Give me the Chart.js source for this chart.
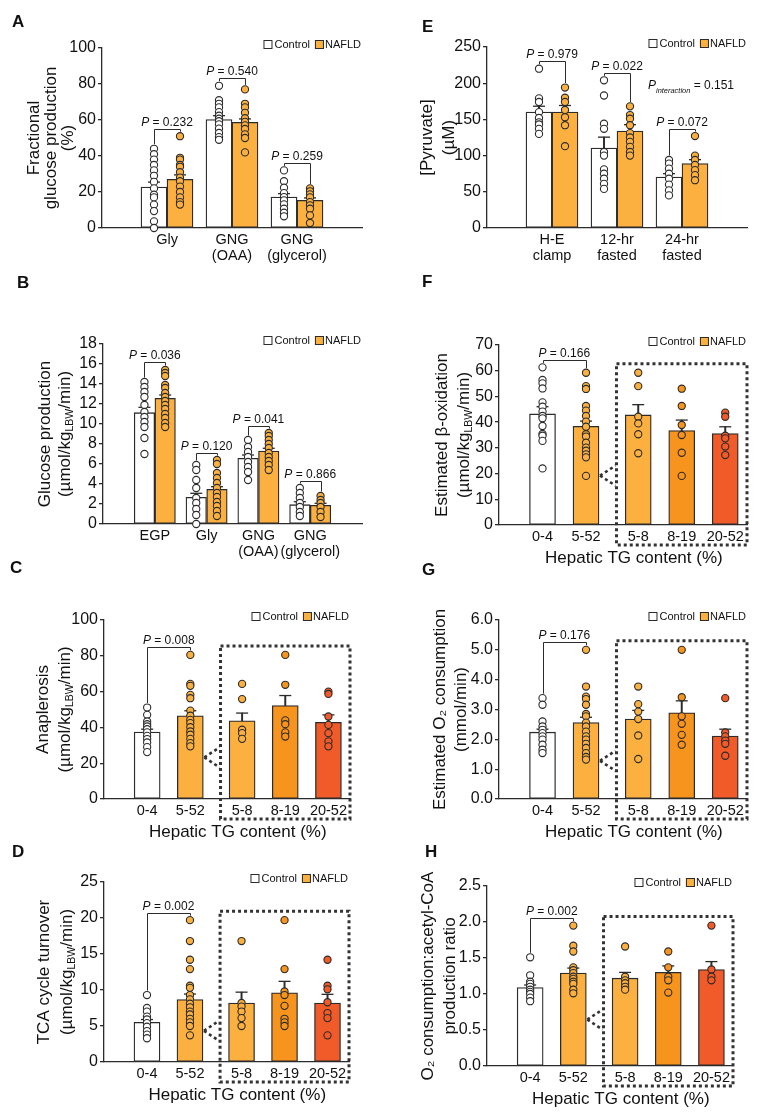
<!DOCTYPE html>
<html>
<head>
<meta charset="utf-8">
<title>Hepatic glucose and mitochondrial metabolism in NAFLD</title>
<script src="https://cdn.jsdelivr.net/npm/chart.js@4.4.1/dist/chart.umd.min.js"></script>
<style>
  html, body { margin: 0; padding: 0; background: #fff; }
  #fig { position: relative; width: 769px; height: 1114px; overflow: hidden; background: #fff; }
  #fig canvas { position: absolute; }
</style>
</head>
<body>
<div id="fig"></div>
<script>
// ---------- values ----------

// A: fractional glucose production (%)
const aCategories = [['Gly'], ['GNG', '(OAA)'], ['GNG', '(glycerol)']];
const aCtrlMean = [22.8, 60.2, 17.2];
const aCtrlSem = [2.7, 2.2, 1.9];
const aNafldMean = [27.0, 58.7, 15.4];
const aNafldSem = [2.5, 1.9, 1.3];
const aCtrlPts = [
  [44, 41, 38, 35, 32, 29, 25.6, 22, 18.5, 17, 13, 9.4, 3.7, 0],
  [79, 71, 69, 67, 64.4, 62.4, 60.7, 59.3, 57.6, 55.2, 52.8, 50.5, 49],
  [32, 26, 22.4, 19.4, 17.2, 15.4, 13.1, 10.7, 8.5, 6.5]
];
const aNafldPts = [
  [51, 39, 38, 35, 34, 31, 28, 26, 23, 20, 17, 14.4, 13],
  [77, 69, 67, 64, 61, 59, 57, 55, 52, 50, 42],
  [22, 20.4, 18.7, 17, 14.4, 12.6, 10.7, 7, 2.8]
];
const aPValues = ['0.232', '0.540', '0.259'];

// B: glucose production (umol/kgLBW/min)
const bCategories = [['EGP'], ['Gly'], ['GNG', '(OAA)'], ['GNG', '(glycerol)']];
const bCtrlMean = [11.13, 2.67, 6.57, 1.93];
const bCtrlSem = [0.54, 0.4, 0.33, 0.3];
const bNafldMean = [12.57, 3.47, 7.3, 1.87];
const bNafldSem = [0.33, 0.26, 0.27, 0.2];
const bCtrlPts = [
  [14.2, 13.7, 13.2, 12.7, 11.9, 11.2, 10.7, 10.2, 9.7, 8.6, 7.0],
  [5.9, 5.4, 4.4, 3.6, 2.6, 2.1, 1.5, 0.9, 0],
  [8.4, 7.7, 7.2, 6.7, 6.2, 5.7, 5.2, 4.4],
  [3.6, 3.1, 2.6, 2.1, 1.7, 1.2, 0.8]
];
const bNafldPts = [
  [15.4, 15.1, 14.8, 13.9, 13.6, 13.1, 12.7, 12.3, 11.9, 11.5, 11.0, 10.6, 10.1, 9.7],
  [6.4, 6.0, 5.1, 4.6, 4.1, 3.6, 3.1, 2.7, 2.2, 1.8, 1.3, 0.8],
  [9.1, 8.8, 8.4, 8.0, 7.6, 7.1, 6.7, 6.3, 5.9, 5.4],
  [2.8, 2.4, 2.1, 1.7, 1.2, 0.7]
];
const bPValues = ['0.036', '0.120', '0.041', '0.866'];

// E: plasma pyruvate (uM)
const eCategories = [['H-E', 'clamp'], ['12-hr', 'fasted'], ['24-hr', 'fasted']];
const eCtrlMean = [160.2, 110.5, 70.4];
const eCtrlSem = [8, 15, 4.6];
const eNafldMean = [160.2, 134, 88.9];
const eNafldSem = [9, 8.7, 5.5];
const eCtrlPts = [
  [220, 179, 174, 160, 152, 146, 143, 137, 130],
  [204, 183, 144, 137, 105, 100, 81, 75, 68, 61, 54],
  [94, 89, 82, 75, 68, 60, 52, 45]
];
const eNafldPts = [
  [194, 180, 174, 163, 153, 142, 113],
  [168, 156, 151, 142, 131, 125, 119, 112, 105, 100],
  [127, 100, 94, 87, 80, 73, 66]
];
const ePValues = ['0.979', '0.022', '0.072'];
const eInteraction = '0.151';

// C, D, F, G, H: by hepatic TG content (%)
const tgGroups = [['0-4'], ['5-52'], ['5-8'], ['8-19'], ['20-52']];

const cMean = [37.4, 46.5, 43.7, 52.2, 42.8];
const cSem = [1.6, 2.8, 4.3, 5.6, 4.2];
const cPts = [
  [51.1, 47.0, 43.3, 41.8, 40.5, 39.0, 37.2, 35.3, 33.5, 31.6, 29.0, 26.2],
  [80.5, 64.3, 63.2, 58.2, 56.3, 49.4, 46.5, 44.2, 42.4, 40.1, 37.7, 35.9, 33.6, 31.2, 29.4],
  [64.3, 55.8, 38.7, 36.8, 33.6],
  [80.5, 63.8, 43.9, 41.8, 37.2, 34.9],
  [60.0, 58.7, 46.1, 41.4, 36.8, 32.2, 29.4]
];
const cP = '0.008';

const dMean = [5.5, 8.66, 8.2, 9.6, 8.2];
const dSem = [0.4, 0.78, 1.5, 1.6, 1.2];
const dPts = [
  [9.3, 7.5, 7.0, 6.3, 5.9, 5.4, 4.9, 4.3, 3.8, 3.3],
  [19.7, 16.8, 14.2, 12.9, 10.6, 10.3, 9.3, 8.7, 8.1, 7.6, 7.0, 6.6, 6.0, 5.5, 5.0, 3.7],
  [16.8, 8.2, 7.7, 7.0, 6.1, 5.0],
  [19.7, 12.9, 9.8, 9.3, 7.8, 6.0, 5.5, 5.0],
  [14.2, 10.6, 10.1, 8.3, 6.8, 6.1, 3.7]
];
const dP = '0.002';

const fMean = [43.2, 38.4, 42.8, 36.7, 35.6];
const fSem = [2.8, 2.0, 4.0, 4.1, 2.6];
const fPts = [
  [61.3, 56.4, 55.1, 53.1, 47.7, 46.0, 44.1, 42.4, 41.5, 38.5, 35.4, 34.7, 32.7, 22.0],
  [59.2, 54.0, 52.9, 46.3, 44.5, 42.4, 40.2, 38.2, 35.3, 34.4, 32.0, 30.1, 28.9, 27.5, 26.3, 19.1],
  [59.2, 54.0, 42.1, 39.5, 35.3, 27.9],
  [53.0, 46.3, 38.9, 35.0, 28.1, 19.1],
  [43.7, 42.1, 34.7, 33.7, 30.5, 27.2]
];
const fP = '0.166';

const gMean = [2.24, 2.56, 2.68, 2.89, 2.11];
const gSem = [0.1, 0.18, 0.29, 0.4, 0.23];
const gPts = [
  [3.38, 3.16, 2.6, 2.43, 2.32, 2.21, 2.1, 1.99, 1.82, 1.65, 1.54],
  [5.0, 3.77, 3.43, 3.35, 3.16, 2.85, 2.77, 2.56, 2.43, 2.26, 2.1, 1.99, 1.85, 1.71, 1.54, 1.41, 1.32],
  [3.77, 3.18, 2.93, 2.68, 2.13, 1.34],
  [5.0, 3.41, 2.77, 2.52, 2.15, 1.82],
  [3.38, 2.23, 2.1, 1.96, 1.85, 1.45]
];
const gP = '0.176';

const hMean = [1.09, 1.29, 1.22, 1.30, 1.34];
const hSem = [0.035, 0.07, 0.08, 0.09, 0.11];
const hPts = [
  [1.51, 1.26, 1.17, 1.14, 1.10, 1.06, 1.03, 1.00, 0.95, 0.90],
  [1.95, 1.67, 1.59, 1.37, 1.33, 1.29, 1.24, 1.21, 1.17, 1.14, 1.06, 1.01],
  [1.66, 1.24, 1.19, 1.15, 1.10, 1.06],
  [1.59, 1.37, 1.24, 1.19, 1.02],
  [1.95, 1.34, 1.24, 1.19]
];
const hP = '0.002';

// ---------- styling / layout ----------
const FONT = '"Liberation Sans", Arial, Helvetica, sans-serif';
const INK = '#2b2b2b';
const WHITE = '#ffffff';
const ORANGE = '#FBB040';
const ORANGE_DARK = '#F7941D';
const RED_ORANGE = '#F15A29';
const Y_W = 45;   // fixed y-axis box width
const X_H = 42;   // fixed x-axis box height (room for two label lines)
const TG_X = [1, 2, 3.2, 4.2, 5.2];
const TG_FILL = [WHITE, ORANGE, ORANGE, ORANGE_DARK, RED_ORANGE];
const fig = document.getElementById('fig');

const umolLine = [{ t: '(\u00b5mol/kg' }, { t: 'LBW', sub: true }, { t: '/min)' }];

function drawRich(ctx, parts, x, y, size, align) {
  const fontFor = p => (p.it ? 'italic ' : '') + (p.sub ? size * 0.62 : size) + 'px ' + FONT;
  let total = 0;
  const widths = parts.map(p => {
    ctx.font = fontFor(p);
    const w = ctx.measureText(p.t).width;
    total += w;
    return w;
  });
  let cx = align === 'center' ? x - total / 2 : align === 'right' ? x - total : x;
  ctx.textAlign = 'left';
  parts.forEach((p, i) => {
    ctx.font = fontFor(p);
    ctx.fillText(p.t, cx, y + (p.sub ? size * 0.3 : 0));
    cx += widths[i];
  });
}

function pairGroups(cm, cs, cp, nm, ns, np) {
  const out = [];
  cm.forEach((m, i) => {
    out.push({ x: i + 0.8, mean: m, sem: cs[i], pts: cp[i], fill: WHITE });
    out.push({ x: i + 1.2, mean: nm[i], sem: ns[i], pts: np[i], fill: ORANGE });
  });
  return out;
}

function tgGroupsOf(mean, sem, pts) {
  return mean.map((m, i) => ({ x: TG_X[i], mean: m, sem: sem[i], pts: pts[i], fill: TG_FILL[i] }));
}

function makePanel(spec) {
  const L = spec.layout;
  const cv = document.createElement('canvas');
  cv.width = L.w;
  cv.height = L.h;
  cv.style.left = L.left + 'px';
  cv.style.top = L.top + 'px';
  fig.appendChild(cv);
  const [pl, pt, pr, pb] = L.plot;
  const groups = spec.groups;

  const datasets = [
    {
      type: 'bar', order: 5, grouped: false, barThickness: L.barW,
      data: groups.map(g => ({ x: g.x, y: g.mean })),
      backgroundColor: groups.map(g => g.fill),
      borderColor: INK, borderWidth: 1.3, borderSkipped: false
    },
    {
      type: 'bar', order: 4, grouped: false, barThickness: 1.3,
      data: groups.map(g => ({ x: g.x, y: [g.mean, g.mean + g.sem] })),
      backgroundColor: INK, borderWidth: 0
    },
    {
      type: 'scatter', order: 3, clip: false,
      data: groups.map(g => ({ x: g.x, y: g.mean + g.sem })),
      pointStyle: 'line', pointRadius: 6, pointBorderColor: INK, pointBorderWidth: 1.3
    }
  ];
  groups.forEach(g => datasets.push({
    type: 'scatter', order: 1, clip: false,
    data: g.pts.map(v => ({ x: g.x, y: v })),
    pointRadius: 3.6, pointBackgroundColor: g.fill, pointBorderColor: INK, pointBorderWidth: 1.1
  }));

  const decor = {
    id: 'decor',
    afterDraw(chart) {
      const ctx = chart.ctx, xs = chart.scales.x, ys = chart.scales.y, a = chart.chartArea;
      ctx.save();
      ctx.fillStyle = '#111';
      ctx.strokeStyle = INK;

      // panel letter
      ctx.font = 'bold 17px ' + FONT;
      ctx.textAlign = 'left';
      ctx.textBaseline = 'alphabetic';
      ctx.fillText(spec.letter, L.letter[0] - L.left, L.letter[1] - L.top);

      // y title
      const yc = (a.top + a.bottom) / 2;
      ctx.textBaseline = 'middle';
      spec.yTitle.forEach((line, i) => {
        ctx.save();
        ctx.translate(L.titleX[i] - L.left, yc);
        ctx.rotate(-Math.PI / 2);
        drawRich(ctx, line, 0, 0, 17, 'center');
        ctx.restore();
      });

      // x title
      if (spec.xTitle) {
        ctx.font = '17px ' + FONT;
        ctx.textAlign = 'center';
        ctx.fillText(spec.xTitle, xs.getPixelForValue(3.1), a.bottom + 33);
      }

      // legend
      ctx.textBaseline = 'middle';
      ctx.font = '11px ' + FONT;
      const ly = a.top - 3.5;
      let lx = a.right - 1 - ctx.measureText('NAFLD').width;
      ctx.textAlign = 'left';
      ctx.fillText('NAFLD', lx, ly);
      lx -= 10;
      ctx.fillStyle = ORANGE; ctx.fillRect(lx, ly - 4.5, 9, 9);
      ctx.lineWidth = 1; ctx.strokeRect(lx + 0.5, ly - 4, 8, 8);
      ctx.fillStyle = '#111';
      lx -= 5 + ctx.measureText('Control').width;
      ctx.fillText('Control', lx, ly);
      lx -= 11;
      ctx.fillStyle = WHITE; ctx.fillRect(lx, ly - 4.5, 9, 9);
      ctx.strokeRect(lx + 0.5, ly - 4, 8, 8);
      ctx.fillStyle = '#111';

      // significance brackets
      ctx.textBaseline = 'alphabetic';
      ctx.lineWidth = 1;
      spec.brackets.forEach(([ia, ib, label]) => {
        const ga = groups[ia], gb = groups[ib];
        const xa = xs.getPixelForValue(ga.x), xb = xs.getPixelForValue(gb.x);
        const ya = ys.getPixelForValue(Math.max(...ga.pts, ga.mean + ga.sem));
        const yb = ys.getPixelForValue(Math.max(...gb.pts, gb.mean + gb.sem));
        const top = Math.round(Math.min(ya, yb) - 7.5) + 0.5;
        ctx.beginPath();
        ctx.moveTo(Math.round(xa) + 0.5, ya - 4.5);
        ctx.lineTo(Math.round(xa) + 0.5, top);
        ctx.lineTo(Math.round(xb) + 0.5, top);
        ctx.lineTo(Math.round(xb) + 0.5, yb - 4.5);
        ctx.stroke();
        drawRich(ctx, [{ t: 'P', it: true }, { t: ' = ' + label }], (xa + xb) / 2, top - 3.5, 12, 'center');
      });

      if (spec.interaction) {
        drawRich(ctx, [{ t: 'P', it: true }, { t: 'interaction', it: true, sub: true }, { t: ' = ' + spec.interaction }],
          L.interaction[0] - L.left, L.interaction[1] - L.top, 12, 'center');
      }

      // dotted box around the NAFLD subgroups
      if (L.boxX) {
        const boxL = xs.getPixelForValue(L.boxX), boxR = a.right;
        const topV = Math.max(...groups.slice(2).flatMap(g => g.pts));
        const boxT = ys.getPixelForValue(topV) - 9, boxB = a.bottom + 20;
        ctx.setLineDash([3, 3]);
        ctx.lineWidth = 3;
        ctx.strokeStyle = '#333';
        ctx.strokeRect(boxL, boxT, boxR - boxL, boxB - boxT);
        const g1 = groups[1];
        const ax = xs.getPixelForValue(g1.x) + L.barW / 2 + 1;
        const ay = ys.getPixelForValue(g1.mean / 2);
        ctx.lineWidth = 2.6;
        ctx.beginPath();
        ctx.moveTo(ax, ay); ctx.lineTo(boxL - 1, ay - 10);
        ctx.moveTo(ax, ay); ctx.lineTo(boxL - 1, ay + 10);
        ctx.stroke();
      }
      ctx.restore();
    }
  };

  new Chart(cv, {
    type: 'bar',
    data: { datasets },
    options: {
      responsive: false,
      animation: false,
      events: [],
      layout: {
        padding: {
          left: pl - L.left - Y_W,
          top: pt - L.top,
          right: L.left + L.w - pr,
          bottom: L.top + L.h - pb - X_H
        }
      },
      plugins: { legend: { display: false }, tooltip: { enabled: false } },
      scales: {
        x: {
          type: 'linear', min: 0, max: L.xMax, offset: false,
          grid: { display: false, drawTicks: false, offset: false },
          border: { display: true, color: INK, width: 1.3 },
          ticks: {
            autoSkip: false, maxRotation: 0, padding: 4, color: '#111',
            font: { family: FONT, size: 14.5, lineHeight: 1.1 },
            callback: (v, i) => spec.xLabels[i]
          },
          afterBuildTicks: s => { s.ticks = spec.xTicks.map(v => ({ value: v })); },
          afterFit: s => { s.height = X_H; }
        },
        y: {
          type: 'linear', min: 0, max: spec.yMax,
          ticks: {
            stepSize: spec.yStep, padding: 2, color: '#111', autoSkip: false,
            font: { family: FONT, size: 16 },
            callback: spec.yFmt || (v => v)
          },
          grid: { display: true, drawOnChartArea: false, drawTicks: true, tickLength: 4, color: INK, lineWidth: 1.3 },
          border: { display: true, color: INK, width: 1.3 },
          afterFit: s => { s.width = Y_W; }
        }
      }
    },
    plugins: [decor]
  });
}

const fixed1 = v => v.toFixed(1);
const tgTicks = { xTicks: TG_X, xLabels: tgGroups, xTitle: 'Hepatic TG content (%)' };

makePanel({
  letter: 'A',
  layout: { left: 0, top: 0, w: 385, h: 280, plot: [102, 48, 362, 228], xMax: 4, barW: 26, letter: [12, 27], titleX: [34.5, 51.5, 68.5] },
  groups: pairGroups(aCtrlMean, aCtrlSem, aCtrlPts, aNafldMean, aNafldSem, aNafldPts),
  xTicks: [1, 2, 3], xLabels: aCategories,
  yMax: 100, yStep: 20,
  yTitle: [[{ t: 'Fractional' }], [{ t: 'glucose production' }], [{ t: '(%)' }]],
  brackets: aPValues.map((p, i) => [2 * i, 2 * i + 1, p])
});

makePanel({
  letter: 'E',
  layout: { left: 385, top: 0, w: 384, h: 280, plot: [487, 47, 747, 228], xMax: 4, barW: 26, letter: [422, 32], titleX: [427, 449], interaction: [691, 89] },
  groups: pairGroups(eCtrlMean, eCtrlSem, eCtrlPts, eNafldMean, eNafldSem, eNafldPts),
  xTicks: [1, 2, 3], xLabels: eCategories,
  yMax: 250, yStep: 50,
  yTitle: [[{ t: '[Pyruvate]' }], [{ t: '(\u00b5M)' }]],
  brackets: ePValues.map((p, i) => [2 * i, 2 * i + 1, p]),
  interaction: eInteraction
});

makePanel({
  letter: 'B',
  layout: { left: 0, top: 262, w: 385, h: 310, plot: [103, 344, 362, 524], xMax: 5, barW: 20.5, letter: [17, 288], titleX: [45, 65] },
  groups: pairGroups(bCtrlMean, bCtrlSem, bCtrlPts, bNafldMean, bNafldSem, bNafldPts),
  xTicks: [1, 2, 3, 4], xLabels: bCategories,
  yMax: 18, yStep: 2,
  yTitle: [[{ t: 'Glucose production' }], umolLine],
  brackets: bPValues.map((p, i) => [2 * i, 2 * i + 1, p])
});

makePanel(Object.assign({
  letter: 'F',
  layout: { left: 385, top: 262, w: 384, h: 310, plot: [499, 345, 747, 525], xMax: 5.7, barW: 26, letter: [422, 287], titleX: [442, 464], boxX: 2.7 },
  groups: tgGroupsOf(fMean, fSem, fPts),
  yMax: 70, yStep: 10,
  yTitle: [[{ t: 'Estimated \u03b2-oxidation' }], umolLine],
  brackets: [[0, 1, fP]]
}, tgTicks));

makePanel(Object.assign({
  letter: 'C',
  layout: { left: 0, top: 555, w: 385, h: 290, plot: [104, 620, 350, 799], xMax: 5.7, barW: 26, letter: [10, 573], titleX: [43, 65], boxX: 2.7 },
  groups: tgGroupsOf(cMean, cSem, cPts),
  yMax: 100, yStep: 20,
  yTitle: [[{ t: 'Anaplerosis' }], umolLine],
  brackets: [[0, 1, cP]]
}, tgTicks));

makePanel(Object.assign({
  letter: 'G',
  layout: { left: 385, top: 555, w: 384, h: 290, plot: [499, 620, 747, 799], xMax: 5.7, barW: 26, letter: [422, 575], titleX: [440, 461], boxX: 2.7 },
  groups: tgGroupsOf(gMean, gSem, gPts),
  yMax: 6, yStep: 1, yFmt: fixed1,
  yTitle: [[{ t: 'Estimated O\u2082 consumption' }], [{ t: '(mmol/min)' }]],
  brackets: [[0, 1, gP]]
}, tgTicks));

makePanel(Object.assign({
  letter: 'D',
  layout: { left: 0, top: 838, w: 385, h: 276, plot: [104, 882, 349, 1062], xMax: 5.7, barW: 26, letter: [12, 857], titleX: [44, 67], boxX: 2.7 },
  groups: tgGroupsOf(dMean, dSem, dPts),
  yMax: 25, yStep: 5,
  yTitle: [[{ t: 'TCA cycle turnover' }], umolLine],
  brackets: [[0, 1, dP]]
}, tgTicks));

makePanel(Object.assign({
  letter: 'H',
  layout: { left: 385, top: 838, w: 384, h: 276, plot: [487, 886, 733, 1066], xMax: 5.7, barW: 26, letter: [425, 857], titleX: [428, 450], boxX: 2.7 },
  groups: tgGroupsOf(hMean, hSem, hPts),
  yMax: 2.5, yStep: 0.5, yFmt: fixed1,
  yTitle: [[{ t: 'O\u2082 consumption:acetyl-CoA' }], [{ t: 'production ratio' }]],
  brackets: [[0, 1, hP]]
}, tgTicks));
</script>
</body>
</html>
